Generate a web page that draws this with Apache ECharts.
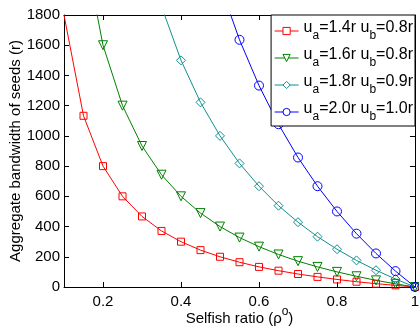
<!DOCTYPE html>
<html>
<head>
<meta charset="utf-8">
<script src="https://cdn.jsdelivr.net/npm/echarts@6/dist/echarts.min.js"></script>
<style>
  html, body { margin: 0; padding: 0; background: #fff; }
  #chart { width: 419px; height: 331px; }
</style>
</head>
<body>
<div id="chart"></div>
<script>
// selfish ratio samples
const rho = [0.1, 0.15, 0.2, 0.25, 0.3, 0.35, 0.4, 0.45, 0.5, 0.55, 0.6, 0.65, 0.7, 0.75, 0.8, 0.85, 0.9, 0.95, 1.0]

// aggregate seed bandwidth (null = not plotted)
const bw14 = [1800, 1133, 800, 600, 467, 371, 300, 244, 200, 164, 133, 108, 86, 67, 50, 35, 22, 11, 0]
const bw16 = [null, 2267, 1600, 1200, 933, 743, 600, 489, 400, 327, 267, 215, 171, 133, 100, 71, 44, 21, 0]
const bw18 = [null, null, null, null, null, 1857, 1500, 1222, 1000, 818, 667, 538, 429, 333, 250, 176, 111, 53, 0]
const bw20 = [null, null, null, null, null, null, null, null, 2000, 1636, 1333, 1077, 857, 667, 500, 353, 222, 105, 0]

const seriesNames = ['u_a=1.4r u_b=0.8r', 'u_a=1.6r u_b=0.8r', 'u_a=1.8r u_b=0.9r', 'u_a=2.0r u_b=1.0r']
const xTicks = [0.2, 0.4, 0.6, 0.8, 1]
// first point of the red curve sits on the corner without a marker
const hiddenMarker = [0, -1, -1, -1]

const FONT = '"Liberation Sans", Arial, sans-serif'

const styles = [
  { color: '#ff0000', symbol: 'rect', size: 7, rotate: 0 },
  { color: '#008000', symbol: 'triangle', size: 9, rotate: 180 },
  { color: '#108f8f', symbol: 'diamond', size: 9, rotate: 0 },
  { color: '#0000ff', symbol: 'circle', size: 9, rotate: 0 },
]

const chart = echarts.init(document.getElementById('chart'), null, { renderer: 'canvas' })

const markerStyle = (i) => ({ color: 'rgba(255,255,255,0)', borderColor: styles[i].color, borderWidth: 1 })

const mkSeries = (vals, i) => ({
  name: seriesNames[i],
  type: 'line',
  clip: true,
  symbol: styles[i].symbol,
  symbolSize: styles[i].size,
  symbolRotate: styles[i].rotate,
  showAllSymbol: true,
  lineStyle: { color: styles[i].color, width: 1 },
  itemStyle: markerStyle(i),
  emphasis: { disabled: true },
  data: vals.map((v, k) => {
    const pt = [rho[k], v]
    return k === hiddenMarker[i] ? { value: pt, symbol: 'none' } : pt
  }),
})

const axisLine = { show: true, onZero: false, lineStyle: { color: '#000', width: 1 } }

chart.setOption({
  animation: false,
  textStyle: { fontFamily: FONT },
  grid: { left: 64, right: 4, top: 15, bottom: 44, outerBoundsMode: 'none', containLabel: false },
  legend: {
    orient: 'vertical',
    right: 4,
    top: 15,
    padding: [5, 2, 3, 3],
    itemGap: 5,
    itemWidth: 24,
    itemHeight: 9,
    backgroundColor: '#fff',
    borderColor: '#000',
    borderWidth: 1,
    borderRadius: 0,
    data: seriesNames.map((name, i) => ({
      name,
      itemStyle: { color: '#fff', borderColor: styles[i].color, borderWidth: 1 },
      lineStyle: { color: styles[i].color, width: 1 },
    })),
    formatter: (name) => {
      const m = name.match(/u_a=(\S+) u_b=(\S+)/)
      return `{n|u}{s|a}{n|=${m[1]} u}{s|b}{n|=${m[2]}}`
    },
    textStyle: {
      color: '#000',
      fontFamily: FONT,
      rich: {
        n: { fontSize: 16, fontFamily: FONT, color: '#000', lineHeight: 22, verticalAlign: 'top', padding: [0, 0, 6, 0] },
        s: { fontSize: 12, fontFamily: FONT, color: '#000', lineHeight: 22, verticalAlign: 'bottom', padding: [8, 0, 0, 0] },
      },
    },
  },
  xAxis: [
    {
      type: 'value',
      min: 0.1,
      max: 1,
      name: '{n|Selfish ratio (ρ}{p|o}{n|)}',
      nameLocation: 'middle',
      nameGap: 19,
      nameMoveOverlap: false,
      nameTextStyle: {
        rich: {
          n: { fontSize: 15, fontFamily: FONT, color: '#000', verticalAlign: 'bottom', lineHeight: 20 },
          p: { fontSize: 12, fontFamily: FONT, color: '#000', verticalAlign: 'top', lineHeight: 20, padding: [0, 0, 8, 0] },
        },
      },
      axisLine,
      splitLine: { show: false },
      axisTick: { inside: true, length: 5, customValues: xTicks, lineStyle: { color: '#000' } },
      axisLabel: { customValues: xTicks, color: '#000', fontSize: 15, fontFamily: FONT, margin: 7 },
    },
    {
      type: 'value',
      position: 'top',
      min: 0.1,
      max: 1,
      axisLine,
      splitLine: { show: false },
      axisTick: { inside: true, length: 5, customValues: xTicks, lineStyle: { color: '#000' } },
      axisLabel: { show: false },
    },
  ],
  yAxis: [
    {
      type: 'value',
      min: 0,
      max: 1800,
      interval: 200,
      name: 'Aggregate bandwidth of seeds (r)',
      nameLocation: 'middle',
      nameGap: 41,
      nameMoveOverlap: false,
      nameTextStyle: { fontSize: 15, fontFamily: FONT, color: '#000' },
      axisLine,
      splitLine: { show: false },
      axisTick: { inside: true, length: 5, lineStyle: { color: '#000' } },
      axisLabel: { color: '#000', fontSize: 15, fontFamily: FONT, margin: 4, formatter: (v) => String(v) },
    },
    {
      type: 'value',
      position: 'right',
      min: 0,
      max: 1800,
      interval: 200,
      axisLine,
      splitLine: { show: false },
      axisTick: { inside: true, length: 5, lineStyle: { color: '#000' } },
      axisLabel: { show: false },
    },
  ],
  series: [bw14, bw16, bw18, bw20].map(mkSeries),
})
</script>
</body>
</html>
